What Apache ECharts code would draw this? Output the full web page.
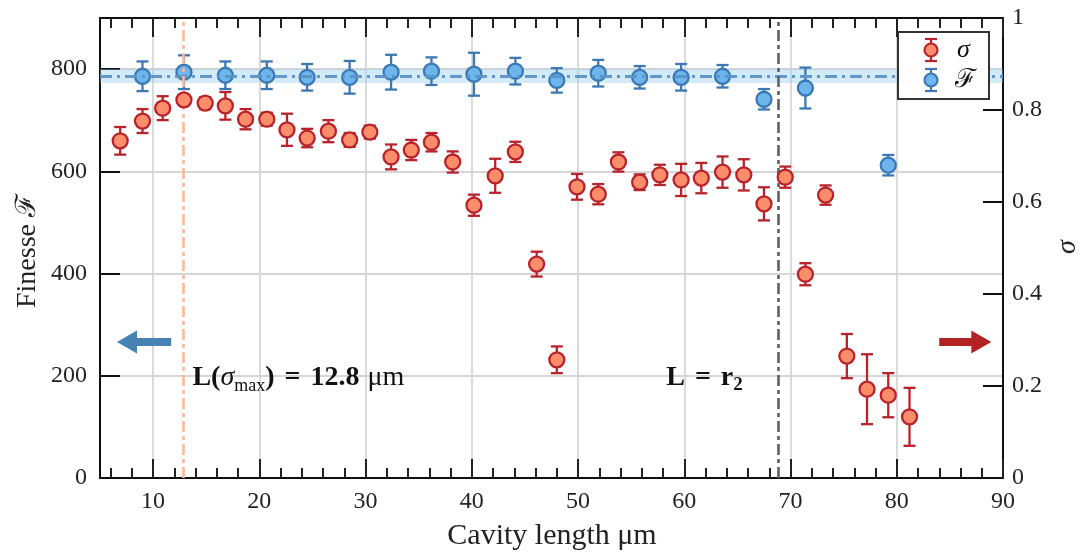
<!DOCTYPE html>
<html>
<head>
<meta charset="utf-8">
<script src="https://cdn.jsdelivr.net/npm/echarts@6/dist/echarts.min.js"></script>
<style>
html,body{margin:0;padding:0;background:#fff;}
#chart{width:1083px;height:557px;}
</style>
</head>
<body>
<div id="chart"></div>
<script>
// ---- data ----
const xSigma = [6.9,9.0,10.9,12.9,14.9,16.8,18.7,20.7,22.6,24.5,26.5,28.5,30.4,32.4,34.3,36.2,38.2,40.2,42.2,44.1,46.1,48.0,49.9,51.9,53.8,55.8,57.7,59.7,61.6,63.6,65.6,67.5,69.5,71.4,73.3,75.3,77.2,79.2,81.2];
const sigma = [0.733,0.776,0.804,0.822,0.815,0.809,0.780,0.780,0.757,0.739,0.754,0.735,0.752,0.698,0.713,0.730,0.687,0.593,0.657,0.709,0.465,0.257,0.633,0.617,0.687,0.643,0.659,0.648,0.652,0.665,0.659,0.596,0.654,0.443,0.615,0.265,0.193,0.180,0.133];
const sigmaErr = [0.030,0.026,0.026,0.011,0.013,0.030,0.022,0.014,0.035,0.020,0.024,0.015,0.014,0.027,0.022,0.020,0.023,0.023,0.037,0.022,0.027,0.029,0.028,0.022,0.021,0.017,0.022,0.035,0.033,0.034,0.034,0.036,0.023,0.024,0.021,0.048,0.076,0.048,0.063];

const xF = [9.0,12.9,16.8,20.7,24.5,28.5,32.4,36.2,40.2,44.1,48.0,51.9,55.8,59.7,63.6,67.5,71.4,79.2];
const finesse = [786,794,788,788,784,784,794,796,790,796,778,792,784,784,786,741,763,612];
const finesseErr = [29,33,27,27,26,32,34,27,42,26,24,26,22,26,22,20,40,20];

const finesseMean = 786;
const finesseBand = [773, 800];
const sigmaMaxL = 12.8;
const r2L = 68.8;

const xMajorTicks = [10,20,30,40,50,60,70,80,90];
const xMinorTicks = [6,8,12,14,16,18,22,24,26,28,32,34,36,38,42,44,46,48,52,54,56,58,62,64,66,68,72,74,76,78,82,84,86,88];

// ---- style ----
const FONT = "'Liberation Serif', 'DejaVu Serif', serif";
const RED = '#b8232b', RED_FILL = '#fc8d6b';
const BLUE = '#3b78b4', BLUE_FILL = '#6cb6ec';

function errData(xs, ys, es){
  return xs.map((x,i)=>[x, ys[i], ys[i]-es[i], ys[i]+es[i]]);
}
function errRender(color){
  return function(params, api){
    const x = api.value(0), lo = api.value(2), hi = api.value(3);
    const pl = api.coord([x, lo]), ph = api.coord([x, hi]);
    const st = {stroke: color, lineWidth: 2.3};
    return {type:'group', children:[
      {type:'line', shape:{x1:pl[0],y1:pl[1],x2:ph[0],y2:ph[1]}, style:st},
      {type:'line', shape:{x1:pl[0]-6,y1:pl[1],x2:pl[0]+6,y2:pl[1]}, style:st},
      {type:'line', shape:{x1:ph[0]-6,y1:ph[1],x2:ph[0]+6,y2:ph[1]}, style:st}
    ]};
  };
}

const chart = echarts.init(document.getElementById('chart'), null, {renderer:'canvas'});

const axisLineStyle = {color:'#111', width:2};
const tickLabel = {fontFamily: FONT, fontSize: 24, color:'#222'};

const option = {
  animation:false,
  backgroundColor:'#fff',
  grid:{left:100, right:80, top:18, bottom:79, containLabel:false},
  xAxis:[
    {type:'value', min:5, max:90, position:'bottom',
     axisLine:{show:true, onZero:false, lineStyle:axisLineStyle},
     axisTick:{show:true, inside:true, length:19, lineStyle:{color:'#222', width:2}, customValues:xMajorTicks},
     axisLabel:{show:true, margin:12, customValues:xMajorTicks, ...tickLabel},
     splitLine:{show:true, lineStyle:{color:'#d6d6d6', width:1.8}},
     minorTick:{show:false}},
    {type:'value', min:5, max:90, position:'top',
     axisLine:{show:true, onZero:false, lineStyle:axisLineStyle},
     axisTick:{show:true, inside:true, length:19, lineStyle:{color:'#222', width:2}, customValues:xMajorTicks},
     axisLabel:{show:false}, splitLine:{show:false}},
    {type:'value', min:5, max:90, position:'bottom',
     axisLine:{show:false, onZero:false},
     axisTick:{show:true, inside:true, length:10, lineStyle:{color:'#222', width:2}, customValues:xMinorTicks},
     axisLabel:{show:false}, splitLine:{show:false}},
    {type:'value', min:5, max:90, position:'top',
     axisLine:{show:false, onZero:false},
     axisTick:{show:true, inside:true, length:10, lineStyle:{color:'#222', width:2}, customValues:xMinorTicks},
     axisLabel:{show:false}, splitLine:{show:false}}
  ],
  yAxis:[
    {type:'value', min:0, max:900, interval:200, position:'left',
     axisLine:{show:true, onZero:false, lineStyle:axisLineStyle},
     axisTick:{show:true, inside:true, length:20, lineStyle:{color:'#111', width:2}},
     axisLabel:{show:true, margin:13, showMaxLabel:false, ...tickLabel},
     splitLine:{show:true, lineStyle:{color:'#d6d6d6', width:1.8}}},
    {type:'value', min:0, max:1, interval:0.2, position:'right',
     axisLine:{show:true, onZero:false, lineStyle:axisLineStyle},
     axisTick:{show:true, inside:true, length:20, lineStyle:{color:'#111', width:2}},
     axisLabel:{show:true, margin:9, ...tickLabel,
       formatter:v=> (v===0?'0':(Math.abs(v-1)<1e-9?'1':v.toFixed(1)))},
     splitLine:{show:false}}
  ],
  series:[
    {type:'scatter', name:'band', xAxisIndex:0, yAxisIndex:0, data:[], z:1, silent:true,
     markArea:{silent:true, itemStyle:{color:'rgba(140,200,240,0.38)'},
       data:[[{yAxis:finesseBand[0]},{yAxis:finesseBand[1]}]]}},
    {type:'custom', name:'Ferr', xAxisIndex:0, yAxisIndex:0, z:2,
     data:errData(xF, finesse, finesseErr), renderItem:errRender(BLUE), encode:{x:0,y:1}},
    {type:'scatter', name:'F', xAxisIndex:0, yAxisIndex:0, z:3,
     data:xF.map((x,i)=>[x, finesse[i]]), symbol:'circle', symbolSize:15,
     itemStyle:{color:BLUE_FILL, borderColor:BLUE, borderWidth:2.3, opacity:1}},
    {type:'scatter', name:'lines', xAxisIndex:0, yAxisIndex:0, data:[], z:4, silent:true,
     markLine:{silent:true, symbol:['none','none'], label:{show:false},
       data:[
         {yAxis:finesseMean, lineStyle:{color:'#5b95c9', width:3, type:[12,5,3,5], opacity:0.95}},
         {xAxis:sigmaMaxL, lineStyle:{color:'#ffb898', width:2.6, type:[11,4,4,4], opacity:1}},
         {xAxis:r2L, lineStyle:{color:'#606060', width:2.6, type:[11,4,4,4], opacity:1}}
       ]}},
    {type:'custom', name:'sigErr', xAxisIndex:0, yAxisIndex:1, z:5,
     data:errData(xSigma, sigma, sigmaErr), renderItem:errRender(RED), encode:{x:0,y:1}},
    {type:'scatter', name:'sigma', xAxisIndex:0, yAxisIndex:1, z:6,
     data:xSigma.map((x,i)=>[x, sigma[i]]), symbol:'circle', symbolSize:15,
     itemStyle:{color:RED_FILL, borderColor:RED, borderWidth:2.3, opacity:1}}
  ]
};
chart.setOption(option);

// ---- annotations positioned from data coordinates ----
function px(x, yF){ return chart.convertToPixel({xAxisIndex:0, yAxisIndex:0}, [x, yF]); }
const arrowYF = 266;
const bTip = px(6.6, arrowYF), bTail = px(11.7, arrowYF);
const rTail = px(84.0, arrowYF), rTip = px(88.9, arrowYF);
function arrow(tail, tip, color){
  const dir = Math.sign(tip[0]-tail[0]);
  const hb = tip[0] - dir*20, y = tip[1];
  return {type:'polygon', z:50, shape:{points:[
    [tail[0], y-4],[hb, y-4],[hb, y-11.5],[tip[0], y],[hb, y+11.5],[hb, y+4],[tail[0], y+4]
  ]}, style:{fill:color}};
}
const t1 = px(13.7, 196), t2 = px(58.3, 196);

function legendMarker(cx, cy, stroke, fill){
  const st = {stroke:stroke, lineWidth:2.2};
  return [
    {type:'line', shape:{x1:cx,y1:cy-11,x2:cx,y2:cy+11}, style:st, z:101},
    {type:'line', shape:{x1:cx-6,y1:cy-11,x2:cx+6,y2:cy-11}, style:st, z:101},
    {type:'line', shape:{x1:cx-6,y1:cy+11,x2:cx+6,y2:cy+11}, style:st, z:101},
    {type:'circle', shape:{cx:cx, cy:cy, r:6.5}, style:{fill:fill, stroke:stroke, lineWidth:2.2}, z:102}
  ];
}

const annB = {fontFamily:FONT, fontSize:28, fontWeight:'bold', fill:'#111', lineHeight:34};
chart.setOption({graphic:[
  arrow(bTail, bTip, '#4682b4'),
  arrow(rTail, rTip, '#b22222'),
  {type:'text', z:50, x:t1[0], y:t1[1], style:{
    text:'{b|L(}{i|σ}{s|max}{b|)}{e|=}{b|12.8}{n|μm}',
    verticalAlign:'middle', align:'left',
    rich:{
      b:annB,
      e:Object.assign({}, annB, {padding:[0,10,0,10]}),
      i:{fontFamily:FONT, fontSize:28, fontStyle:'italic', fill:'#111', lineHeight:34},
      s:{fontFamily:FONT, fontSize:18, fill:'#111', lineHeight:18, verticalAlign:'bottom'},
      n:{fontFamily:FONT, fontSize:28, fill:'#111', lineHeight:34, padding:[0,0,0,8]}
    }}},
  {type:'text', z:50, x:t2[0], y:t2[1], style:{
    text:'{b|L}{e|=}{b|r}{s|2}',
    verticalAlign:'middle', align:'left',
    rich:{
      b:annB,
      e:Object.assign({}, annB, {padding:[0,10,0,10]}),
      s:{fontFamily:FONT, fontSize:19, fontWeight:'bold', fill:'#111', lineHeight:19, verticalAlign:'bottom'}
    }}},
  // axis titles
  {type:'text', z:50, x:28, y:251, rotation:Math.PI/2, style:{
    text:'Finesse ℱ', font:"28px "+FONT, fill:'#222', align:'center', verticalAlign:'middle'}},
  {type:'text', z:50, x:1068, y:247, rotation:Math.PI/2, style:{
    text:'σ', font:"italic 28px "+FONT, fill:'#222', align:'center', verticalAlign:'middle'}},
  {type:'text', z:50, x:552, y:536, style:{
    text:'Cavity length μm', font:"30px "+FONT, fill:'#222', align:'center', verticalAlign:'middle'}},
  // legend
  {type:'rect', z:100, shape:{x:898, y:32, width:91, height:67}, style:{fill:'#fff', stroke:'#333', lineWidth:2}},
  ...legendMarker(931, 50, RED, RED_FILL),
  ...legendMarker(931, 80, BLUE, BLUE_FILL),
  {type:'text', z:102, x:957, y:50, style:{text:'σ', font:"italic 26px "+FONT, fill:'#111', align:'left', verticalAlign:'middle'}},
  {type:'text', z:102, x:955, y:80, style:{text:'ℱ', font:"26px "+FONT, fill:'#111', align:'left', verticalAlign:'middle'}}
]});
</script>
</body>
</html>
